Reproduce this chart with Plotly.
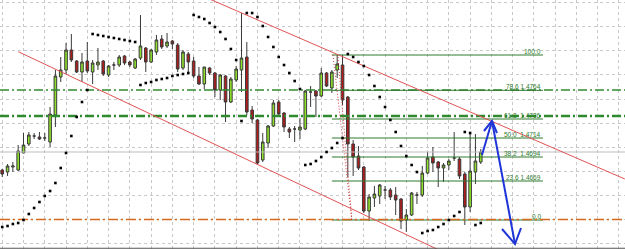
import plotly.graph_objects as go

# ---- candle data (bar index 0..90), prices ----
opens = [1.4682,1.4680,1.4685,1.4682,1.4699,1.4708,1.4716,1.4715,1.4714,1.4710,
         1.4737,1.4775,1.4782,1.4802,1.4791,1.4780,1.4791,1.4780,1.4787,1.4791,
         1.4777,1.4787,1.4787,1.4796,1.4790,1.4784,1.4794,1.4804,1.4790,1.4800,
         1.4813,1.4806,1.4811,1.4807,1.4784,1.4798,1.4791,1.4776,1.4768,1.4784,
         1.4779,1.4762,1.4776,1.4750,1.4772,1.4782,1.4795,1.4742,1.4732,1.4692,
         1.4709,1.4726,1.4750,1.4739,1.4723,1.4723,1.4722,1.4723,1.4760,1.4761,
         1.4756,1.4779,1.4764,1.4782,1.4787,1.4755,1.4708,1.4696,1.4685,1.4641,
         1.4654,1.4656,1.4662,1.4662,1.4657,1.4653,1.4632,1.4637,1.4657,1.4657,
         1.4679,1.4695,1.4690,1.4684,1.4687,1.4694,1.4693,1.4678,1.4645,1.4680,
         1.4690]
highs = [1.4683,1.4688,1.4690,1.4707,1.4719,1.4720,1.4719,1.4720,1.4719,1.4745,
         1.4782,1.4795,1.4809,1.4818,1.4792,1.4799,1.4810,1.4792,1.4804,1.4792,
         1.4787,1.4790,1.4797,1.4797,1.4791,1.4794,1.4837,1.4805,1.4803,1.4817,
         1.4817,1.4819,1.4812,1.4809,1.4802,1.4800,1.4795,1.4785,1.4785,1.4785,
         1.4780,1.4778,1.4777,1.4775,1.4786,1.4839,1.4810,1.4746,1.4733,1.4719,
         1.4727,1.4752,1.4752,1.4740,1.4725,1.4726,1.4734,1.4762,1.4766,1.4762,
         1.4784,1.4780,1.4782,1.4797,1.4797,1.4756,1.4712,1.4706,1.4686,1.4658,
         1.4666,1.4668,1.4666,1.4664,1.4665,1.4654,1.4643,1.4660,1.4660,1.4686,
         1.4700,1.4705,1.4691,1.4689,1.4693,1.4720,1.4695,1.4680,1.4719,1.4718,
         1.4703]
lows = [1.4675,1.4676,1.4680,1.4681,1.4699,1.4706,1.4713,1.4712,1.4711,1.4705,
        1.4725,1.4770,1.4778,1.4790,1.4779,1.4770,1.4779,1.4768,1.4782,1.4776,
        1.4775,1.4782,1.4785,1.4787,1.4785,1.4783,1.4792,1.4780,1.4789,1.4797,
        1.4803,1.4804,1.4803,1.4780,1.4782,1.4779,1.4774,1.4767,1.4763,1.4777,
        1.4755,1.4752,1.4730,1.4749,1.4770,1.4760,1.4737,1.4729,1.4687,1.4690,
        1.4704,1.4725,1.4737,1.4720,1.4714,1.4710,1.4713,1.4722,1.4745,1.4735,
        1.4755,1.4765,1.4759,1.4774,1.4747,1.4675,1.4676,1.4682,1.4639,1.4631,
        1.4645,1.4648,1.4653,1.4652,1.4637,1.4623,1.4620,1.4636,1.4648,1.4655,
        1.4678,1.4680,1.4665,1.4670,1.4682,1.4691,1.4673,1.4627,1.4640,1.4668,
        1.4688]
closes = [1.4678,1.4686,1.4686,1.4701,1.4707,1.4717,1.4716,1.4713,1.4714,1.4738,
          1.4776,1.4782,1.4802,1.4792,1.4780,1.4790,1.4781,1.4789,1.4790,1.4778,
          1.4786,1.4787,1.4795,1.4789,1.4787,1.4793,1.4806,1.4790,1.4802,1.4812,
          1.4805,1.4810,1.4808,1.4783,1.4800,1.4790,1.4776,1.4768,1.4785,1.4779,
          1.4762,1.4777,1.4750,1.4773,1.4783,1.4794,1.4740,1.4733,1.4689,1.4710,
          1.4726,1.4749,1.4738,1.4725,1.4720,1.4723,1.4725,1.4761,1.4760,1.4756,
          1.4779,1.4766,1.4780,1.4788,1.4752,1.4708,1.4695,1.4684,1.4641,1.4655,
          1.4658,1.4667,1.4662,1.4655,1.4652,1.4631,1.4637,1.4659,1.4657,1.4679,
          1.4694,1.4689,1.4684,1.4687,1.4691,1.4694,1.4676,1.4645,1.4681,1.4691,
          1.4700]
# Parabolic SAR, one value per bar
sar = [1.4625,1.4626,1.4628,1.4629,1.4632,1.4638,1.4644,1.4650,1.4656,1.4661,
       1.4669,1.4684,1.4699,1.4716,1.4735,1.4750,1.4762,1.4818,1.4817,1.4816,
       1.4815,1.4814,1.4813,1.4812,1.4811,1.4810,1.4767,1.4769,1.4770,1.4772,
       1.4773,1.4774,1.4776,1.4777,1.4778,1.4779,1.4837,1.4835,1.4833,1.4829,
       1.4825,1.4820,1.4813,1.4803,1.4792,1.4731,1.4839,1.4839,1.4835,1.4826,
       1.4815,1.4805,1.4795,1.4787,1.4779,1.4771,1.4763,1.4687,1.4688,1.4691,
       1.4695,1.4700,1.4704,1.4709,1.4714,1.4798,1.4795,1.4790,1.4786,1.4777,
       1.4766,1.4755,1.4745,1.4732,1.4720,1.4706,1.4696,1.4687,1.4680,1.4619,
       1.4621,1.4622,1.4625,1.4628,1.4632,1.4636,1.4640,1.4720,1.4719,1.4627,
       1.4629]
bars = list(range(len(opens)))

# Fibonacci retracement
fib_start, fib_end = 62.0, 101.7
fib_prices = [1.4797, 1.47617, 1.4733, 1.4714, 1.4695, 1.4671, 1.4632]
fib_labels = ["100.0", "78.6 1.4764", "61.8  1.4736", "50.0  1.4714",
              "38.2  1.4694", "23.6 1.4669", "0.0"]
fib_diag1_x, fib_diag1_y = [62.21, 65.78], [1.4797, 1.4631]
fib_diag2_x, fib_diag2_y = [63.15, 65.78], [1.4795, 1.4631]

# horizontal levels (full width)
green_levels = [1.4762, 1.4736]
green_widths = [1.5, 2.5]
orange_level = 1.46325
bid_price = 1.4700

# channel lines
chan_up_x, chan_up_y = [38.1, 117.1], [1.4855, 1.4673]
chan_lo_x, chan_lo_y = [3.02, 82.33], [1.48003, 1.46015]

# blue arrow path and heads
arrow_x, arrow_y = [90.23, 92.11, 96.44], [1.4697, 1.4731, 1.4608]
head_top_x, head_top_y = [90.6, 92.11, 93.05], [1.4721, 1.4731, 1.4719]
head_bot_x, head_bot_y = [94.0, 96.44, 97.57], [1.4623, 1.4608, 1.4624]

X_RANGE = [-0.42, 117.13]
Y_RANGE = [1.4603, 1.4852]

fig = go.Figure()
fig.add_trace(go.Candlestick(
    x=bars, open=opens, high=highs, low=lows, close=closes,
    increasing=dict(fillcolor='#8fe22c', line=dict(color='#3a3a3a', width=1)),
    decreasing=dict(fillcolor='#b01c1c', line=dict(color='#3a3a3a', width=1)),
    whiskerwidth=0, hoverinfo='skip'))

fig.add_trace(go.Scatter(x=X_RANGE, y=[bid_price]*2, mode='lines',
                         line=dict(color='#bdbdbd', width=1), hoverinfo='skip'))
for lvl, w in zip(green_levels, green_widths):
    fig.add_trace(go.Scatter(x=X_RANGE, y=[lvl, lvl], mode='lines',
                             line=dict(color='#2f8a2f', width=w, dash='9px,3px,2px,3px'),
                             hoverinfo='skip'))

for p in fib_prices:
    fig.add_trace(go.Scatter(x=[fib_start, fib_end], y=[p, p], mode='lines',
                             line=dict(color='#2d7a2d', width=1), hoverinfo='skip'))
fig.add_trace(go.Scatter(x=X_RANGE, y=[orange_level]*2, mode='lines',
                         line=dict(color='#d86a20', width=1.3, dash='10px,3px,2px,3px'),
                         hoverinfo='skip'))
for dx, dy in [(fib_diag1_x, fib_diag1_y), (fib_diag2_x, fib_diag2_y)]:
    fig.add_trace(go.Scatter(x=dx, y=dy, mode='lines',
                             line=dict(color='#d04040', width=1, dash='1px,2px'),
                             hoverinfo='skip'))

for cx, cy in [(chan_up_x, chan_up_y), (chan_lo_x, chan_lo_y)]:
    fig.add_trace(go.Scatter(x=cx, y=cy, mode='lines',
                             line=dict(color='#e05252', width=1), hoverinfo='skip'))

fig.add_trace(go.Scatter(x=bars, y=sar, mode='markers',
                         marker=dict(symbol='square', size=2.6, color='#000000'),
                         hoverinfo='skip'))

for ax_, ay_ in [(arrow_x, arrow_y), (head_top_x, head_top_y), (head_bot_x, head_bot_y)]:
    fig.add_trace(go.Scatter(x=ax_, y=ay_, mode='lines',
                             line=dict(color='#1f35d8', width=2), hoverinfo='skip'))

for p, t in zip(fib_prices, fib_labels):
    fig.add_annotation(x=fib_end, y=p, text=t, showarrow=False, xanchor='right',
                       yanchor='middle', yshift=4,
                       font=dict(family='Liberation Sans', size=6.5, color='#2d7a2d'))

fig.add_shape(type='line', xref='paper', yref='paper', x0=0, x1=1, y0=0.003, y1=0.003,
              line=dict(color='#555555', width=1))

fig.update_layout(
    width=625, height=249, margin=dict(l=0, r=0, t=0, b=0),
    paper_bgcolor='white', plot_bgcolor='white', showlegend=False,
    xaxis=dict(range=X_RANGE, rangeslider=dict(visible=False), showticklabels=False,
               showgrid=True, gridcolor='#c8c8c8', griddash='3px,3px', gridwidth=1,
               tick0=0, dtick=4, zeroline=False, showline=False, ticks=''),
    yaxis=dict(range=Y_RANGE, showticklabels=False, showgrid=True, gridcolor='#c8c8c8',
               griddash='3px,3px', gridwidth=1, tick0=1.48494, dtick=0.00241,
               zeroline=False, showline=False, ticks=''),
)
fig.write_html("out.html")
